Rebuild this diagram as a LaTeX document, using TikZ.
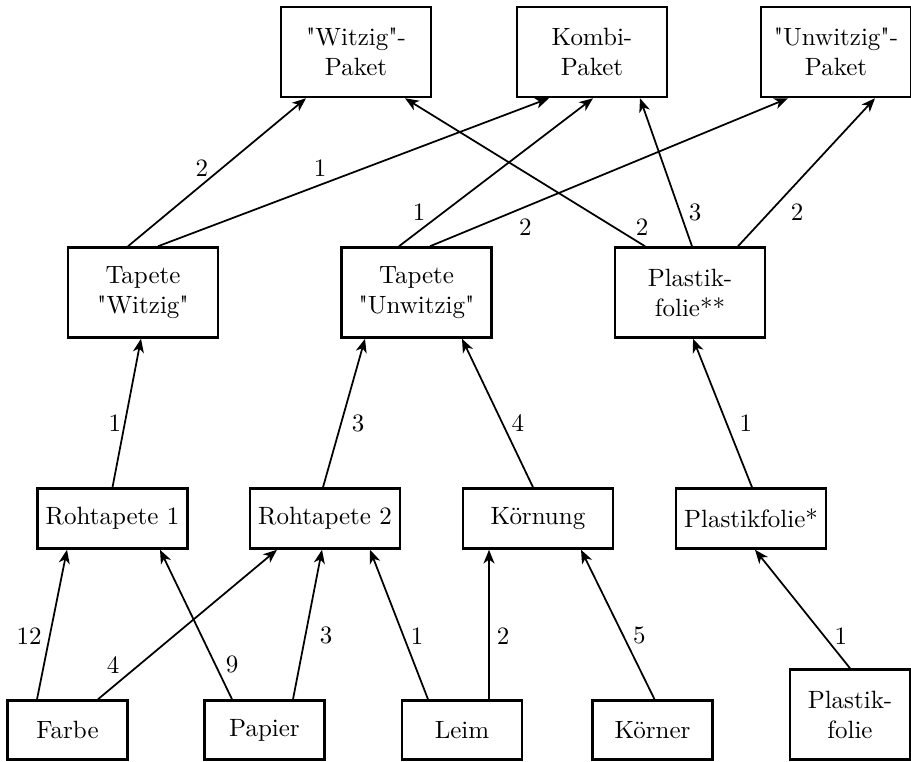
\documentclass[tikz,border=0pt]{standalone}
\usetikzlibrary{calc,arrows.meta}
\tikzset{>={Stealth[length=5.5pt,width=4.4pt,inset=1.6pt]}}
\tikzset{
  box/.style={draw, line width=1pt, align=center, inner sep=0pt, minimum width=60pt},
  tall/.style={box, minimum height=36pt},
  flat/.style={box, minimum height=24pt},
  raw/.style={box, minimum width=48pt, minimum height=23.6pt},
  edge/.style={->, line width=0.7pt},
  num/.style={inner sep=0pt}
}
\newcommand\qq{\textquotedbl}

\begin{document}
\begin{tikzpicture}[x=0.4pt,y=-0.4pt]
  \useasboundingbox (0,0) rectangle (911,761);
  % packages
  \node[tall] (wp) at (356,52) {\qq Witzig\qq-\\Paket};
  \node[tall] (kp) at (592,52) {Kombi-\\Paket};
  \node[tall] (up) at (836,52) {\qq Unwitzig\qq-\\Paket};
  % finished products
  \node[tall] (tw) at (143,292.5) {Tapete\\\qq Witzig\qq};
  \node[tall] (tu) at (416.5,292.5) {Tapete\\\qq Unwitzig\qq};
  \node[tall] (pf2) at (690,292.5) {Plastik-\\folie**};
  % intermediate products
  \node[flat] (r1) at (112.5,518.5) {Rohtapete 1};
  \node[flat] (r2) at (325,518.5) {Rohtapete 2};
  \node[flat] (k) at (538,518.5) {Körnung};
  \node[flat] (pf1) at (751,518.5) {Plastikfolie*};
  % raw materials
  \node[raw] (fa) at (67.5,730) {Farbe};
  \node[raw] (pa) at (264.5,730) {Papier};
  \node[raw] (le) at (462,730) {Leim};
  \node[raw] (ko) at (652.5,730) {Körner};
  \node[raw, minimum height=36pt] (pf0) at (850,714.5) {Plastik-\\folie};
  % requirements
  \foreach \src/\sx/\dst/\tx/\p/\dx/\w in {
      tw/-15/wp/-50/0.527/-20/2, tw/15/kp/-43/0.527/-44/1,
      tu/-17.5/kp/1/0.227/-24/1, tu/13.5/up/-48/0.127/50/2,
      pf2/-45/wp/49/0.127/27.5/2, pf2/2/kp/48/0.227/15/3,
      pf2/48/up/39/0.227/28/2,
      r1/0/tw/-2/0.433/-10/1, r2/-2/tu/-51.5/0.433/17/3,
      k/-5/tu/45.5/0.433/15.7/4, pf1/1/pf2/3/0.433/19.5/1,
      fa/-30.5/r1/-45.5/0.424/-20.7/12, fa/30.5/r2/-48/0.232/-26.5/4,
      pa/-32.5/r1/47.5/0.232/16.7/9, pa/28.5/r2/-3/0.424/20.7/3,
      le/-34/r2/45/0.424/13.6/1, le/27/k/-49/0.424/14/2,
      ko/2/k/43/0.424/16/5, pf0/0/pf1/4/0.275/17/1}
  {
    \draw[edge] ($(\src.north)+(\sx,0)$) -- ($(\dst.south)+(\tx,0)$)
      node[num, pos=\p, xshift={\dx*0.4pt}] (w-\src-\dst) {\w};
  }
\end{tikzpicture}
\end{document}
